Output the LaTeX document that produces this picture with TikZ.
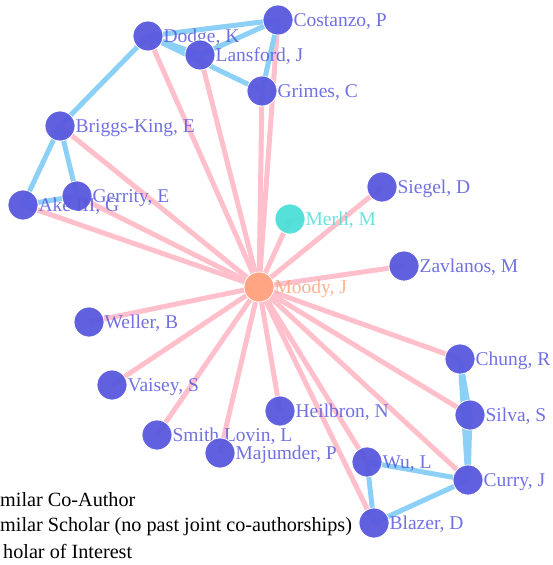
\documentclass[tikz,border=0pt]{standalone}
\usepackage{fontspec}
\setmainfont{Liberation Serif}
\usetikzlibrary{positioning,backgrounds}

\definecolor{scholarblue}{RGB}{88,88,222}
\definecolor{focusorange}{RGB}{255,164,128}
\definecolor{merlicyan}{RGB}{76,222,216}
\definecolor{coauthblue}{RGB}{140,208,248}
\definecolor{similarpink}{RGB}{255,192,203}

\begin{document}
\begin{tikzpicture}[
    x=1pt, y=-1pt,
    person/.style={circle, draw=white, line width=0.8pt, fill=scholarblue, fill opacity=0.95, minimum size=30pt, inner sep=0pt},
    nametag/.style={font=\fontsize{19.5}{22}\selectfont, text=scholarblue, text opacity=0.85, inner sep=0pt, text height=13pt, text depth=4pt, yshift=-2pt},
    legendtext/.style={font=\fontsize{20.2}{23}\selectfont, anchor=west, inner sep=0pt},
    colink/.style={coauthblue, line width=5pt},
    simlink/.style={similarpink, line width=5pt}
]
\useasboundingbox (0,0) rectangle (552,565);

% Top cluster
\node[person] (dodge) at (148,36) {};
\node[nametag, right=0pt of dodge] (dodgelbl) {Dodge, K};
\node[person] (costanzo) at (278,20) {};
\node[nametag, right=0pt of costanzo] (costanzolbl) {Costanzo, P};
\node[person] (lansford) at (200,55) {};
\node[nametag, right=0pt of lansford] (lansfordlbl) {Lansford, J};
\node[person] (grimes) at (262,91) {};
\node[nametag, right=0pt of grimes] (grimeslbl) {Grimes, C};

% Left cluster
\node[person] (briggs) at (60,126) {};
\node[nametag, right=0pt of briggs] (briggslbl) {Briggs-King, E};
\node[person] (gerrity) at (77,196) {};
\node[nametag, right=0pt of gerrity] (gerritylbl) {Gerrity, E};
\node[person] (ake) at (23,205) {};
\node[nametag, right=0pt of ake] (akelbl) {Ake III, G};

% Centre: scholar of interest and neighbours
\node[person] (siegel) at (382,187) {};
\node[nametag, right=0pt of siegel] (siegellbl) {Siegel, D};
\node[person, fill=merlicyan] (merli) at (290,219) {};
\node[nametag, right=0pt of merli, text=merlicyan] (merlilbl) {Merli, M};
\node[person] (zavlanos) at (404,266) {};
\node[nametag, right=0pt of zavlanos] (zavlanoslbl) {Zavlanos, M};
\node[person, fill=focusorange] (moody) at (259,287) {};
\node[nametag, right=0pt of moody, text=focusorange] (moodylbl) {Moody, J};

% Lower left
\node[person] (weller) at (89,322) {};
\node[nametag, right=0pt of weller] (wellerlbl) {Weller, B};
\node[person] (vaisey) at (112,385) {};
\node[nametag, right=0pt of vaisey] (vaiseylbl) {Vaisey, S};
\node[person] (heilbron) at (280,411) {};
\node[nametag, right=0pt of heilbron] (heilbronlbl) {Heilbron, N};
\node[person] (smith) at (157,435) {};
\node[nametag, right=0pt of smith] (smithlbl) {Smith Lovin, L};
\node[person] (majumder) at (220,453) {};
\node[nametag, right=0pt of majumder] (majumderlbl) {Majumder, P};

% Lower right cluster
\node[person] (chung) at (460,359) {};
\node[nametag, right=0pt of chung] (chunglbl) {Chung, R};
\node[person] (silva) at (470,415) {};
\node[nametag, right=0pt of silva] (silvalbl) {Silva, S};
\node[person] (wu) at (367,462) {};
\node[nametag, right=0pt of wu] (wulbl) {Wu, L};
\node[person] (curry) at (468,480) {};
\node[nametag, right=0pt of curry] (currylbl) {Curry, J};
\node[person] (blazer) at (374,523) {};
\node[nametag, right=0pt of blazer] (blazerlbl) {Blazer, D};

% Legend (cut at the left edge)
\node[legendtext] (leg1) at (0,500) {milar Co-Author};
\node[legendtext] (leg2) at (0,527) {milar Scholar (no past joint co-authorships)};
\node[legendtext] (leg3) at (3,551) {holar of Interest};

\begin{scope}[on background layer]
% Links - similar scholars
\foreach \other in {dodge,costanzo,lansford,grimes,briggs,gerrity,ake,siegel,merli,zavlanos,
    weller,vaisey,heilbron,smith,majumder,chung,silva,wu,curry,blazer}
    \draw[simlink] (moody.center) -- (\other.center);

% Links - co-authors
\draw[colink] (dodge.center) -- (costanzo.center);
\draw[colink] (dodge.center) -- (lansford.center);
\draw[colink] (dodge.center) -- (grimes.center);
\draw[colink] (lansford.center) -- (costanzo.center);
\draw[colink] (costanzo.center) -- (grimes.center);
\draw[colink] (dodge.center) -- (briggs.center);
\draw[colink] (briggs.center) -- (ake.center);
\draw[colink] (briggs.center) -- (gerrity.center);
\draw[colink] (gerrity.center) -- (ake.center);
\draw[colink] (chung.center) -- (silva.center);
\draw[colink] (silva.center) -- (curry.center);
\draw[colink] (chung.center) -- (curry.center);
\draw[colink] (wu.center) -- (curry.center);
\draw[colink] (wu.center) -- (blazer.center);
\draw[colink] (blazer.center) -- (curry.center);
\end{scope}

\end{tikzpicture}
\end{document}
